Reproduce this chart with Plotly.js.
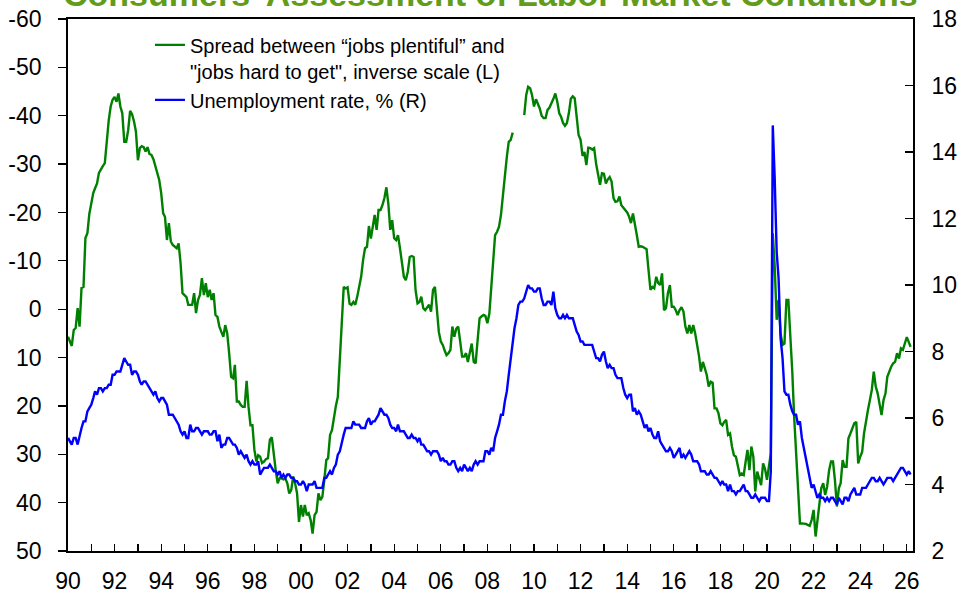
<!DOCTYPE html>
<html>
<head>
<meta charset="utf-8">
<script src="https://cdn.plot.ly/plotly-3.0.1.min.js"></script>
<style>
html,body{margin:0;padding:0;background:#ffffff;}
#chart{width:963px;height:601px;}
</style>
</head>
<body>
<div id="chart"></div>
<script>
// ---- Data (monthly, starting January 1990) ----
const startYear = 1990;
const startMonth = 1;

// Conference Board: "jobs plentiful" minus "jobs hard to get" (plotted on inverse left scale)
const spreadJobs = [
  5.7, 6.8, 7.6, 4.3, 3.9, -0.2, 3.6, -4.4, -4.6, -14.7, -15.7, -19.7,
  -22, -24, -25, -26, -28.2, -29, -29.6, -30.2, -35.7, -39, -41.9, -43.3,
  -43.9, -42.9, -44.6, -41.9, -40.5, -34.6, -34.6, -37, -41, -40.3, -38.8, -36.7,
  -30.8, -33.3, -33.7, -33.5, -32.6, -33.5, -32.1, -31.9, -31, -29.6, -28, -26.7,
  -24, -19.8, -19.1, -14.3, -17.8, -14, -13.3, -13, -12.6, -13.6, -9.5, -3.3,
  -2.8, -2.5, -0.9, -0.9, -0.9, -3.3, 0.8, -1.9, -3, -6.4, -2.9, -5.4,
  -2.5, -4, -1.9, -3.3, 1.2, 1.6, 3.6, 4.7, 5.7, 3.3, 5, 9.1,
  14, 14.3, 11.5, 19.1, 19.1, 19.8, 20.2, 20.2, 14.8, 20.2, 24, 24,
  29.1, 31.5, 30.2, 30.5, 31.8, 31.5, 31, 30.8, 27, 26.5, 30.5, 33.3,
  36, 34.9, 35, 35.2, 35, 36, 38.1, 37.4, 34.6, 36, 38.1, 44,
  40.5, 42.9, 40.5, 42.6, 42.2, 43.6, 46.4, 42.6, 41.9, 38.1, 39.5, 38.8,
  35.3, 31.2, 30.8, 26, 25, 22.2, 20, 18.1, 9.8, 1.6, -4.6, -4.3,
  -4.5, -1.1, -0.9, -1.5, -0.9, -2.6, -5, -6.7, -10.2, -12.6, -12.9, -17.2,
  -14.6, -17.4, -19.5, -16.4, -20.5, -20.5, -21.5, -23, -25.2, -21.9, -16.4, -18.4,
  -14.7, -14.3, -15.3, -12.6, -9.8, -6.7, -6, -7.7, -10.8, -11, -10.8, -4,
  -1.2, -1.5, -2.6, -0.2, 0.2, -0.5, -0.9, 0.5, -4, -4.6, 0.9, 4.7,
  6.7, 7.4, 8.5, 9.5, 9.1, 8.4, 3.6, 5.7, 4, 3.6, 6.7, 9.8,
  9.8, 9.1, 10.9, 8.8, 7.1, 10.9, 11.2, 6.4, 1.9, 1.5, 1.2, 1.4,
  2.9, 0.9, -4, -10.2, -15.3, -16, -17, -19.5, -24, -28.1, -31.5, -34.6,
  -35, -36.5, null, null, null, null, null, -40.1, -44.3, -46, -45.7, -44.3,
  -41.9, -43.4, -42.5, -41.5, -40, -39.5, -39.5, -41.2, -41.7, -42.5, -43.5, -44.6,
  -42.9, -40.5, -39.8, -38.5, -37.9, -38.5, -40.5, -43.5, -44, -43.6, -40.1, -36,
  -35, -31.7, -32.5, -29.8, -33.4, -33.3, -33, -33.3, -30, -28.1, -25.7, -28.1,
  -28, -26, -26.8, -27.3, -26.4, -22.9, -22.2, -22.3, -23.3, -21.5, -21, -20.5,
  -20, -19.1, -17.8, -19.8, -17.8, -15.3, -12.9, -13, -12.9, -12.6, -12.4, -8.1,
  -4, -4.6, -4.3, -6.7, -5.4, -5, -7.4, 0.2, -0.2, -3.3, -5, -0.5,
  -0.5, 0.2, 1.2, 0.2, -0.4, 0.5, 3.6, 5, 3.3, 5, 3.3, 5,
  7.1, 9.8, 12.9, 10.9, 12.2, 13.6, 16, 15, 15.2, 20.5, 20.5, 21.5,
  23.6, 24, 23.3, 22.9, 26, 25.7, 28.4, 30.2, 30.5, 32.6, 34.3, 34,
  34.3, 31.5, 29.1, 33.3, 28.4, 30.5, 37.7, 33.6, 35.3, 36.4, 31.9, 33,
  35.3, 32.6, 29.8, -15.7, -8.8, 2.2, -1.9, 5, 7.4, 7.1, -1.9, -1.9,
  5, 13, 22, 30, 38, 44.3, 44.3, 44.3, 44.4, 44.6, 44.8, 43.6,
  41.5, 47, 43.6, 39.5, 37, 36, 38.4, 36.7, 33.3, 31.5, 31.5, 35.3,
  40.8, 37, 36, 31.2, 32.6, 32.6, 26.7, 25.7, 24.4, 23.6, 23.3, 31.9,
  30.5, 29.5, 25.7, 22.9, 20.9, 18.8, 16.7, 12.9, 16, 17.4, 19.5, 21.9,
  18.8, 17.4, 14, 12.9, 11.9, 11.2, 10.9, 9.1, 10.2, 8.1, 8.4, 7.1,
  5.8, 6.8, 7.8
];

// Unemployment rate, % (right scale)
const unemploymentRate = [
  5.4, 5.3, 5.2, 5.4, 5.4, 5.2, 5.5, 5.7, 5.9, 5.9, 6.2, 6.3,
  6.4, 6.6, 6.8, 6.7, 6.9, 6.9, 6.8, 6.9, 6.9, 7.0, 7.0, 7.3,
  7.3, 7.4, 7.4, 7.4, 7.6, 7.8, 7.7, 7.6, 7.6, 7.3, 7.4, 7.4,
  7.3, 7.1, 7.0, 7.1, 7.1, 7.0, 6.9, 6.8, 6.7, 6.8, 6.6, 6.5,
  6.6, 6.6, 6.5, 6.4, 6.1, 6.1, 6.1, 6.0, 5.9, 5.8, 5.6, 5.5,
  5.6, 5.4, 5.4, 5.8, 5.6, 5.6, 5.7, 5.7, 5.6, 5.5, 5.6, 5.6,
  5.6, 5.5, 5.5, 5.6, 5.6, 5.3, 5.5, 5.1, 5.2, 5.2, 5.4, 5.4,
  5.3, 5.2, 5.2, 5.1, 4.9, 5.0, 4.9, 4.8, 4.9, 4.7, 4.6, 4.7,
  4.6, 4.6, 4.7, 4.3, 4.4, 4.5, 4.5, 4.5, 4.6, 4.5, 4.4, 4.4,
  4.3, 4.4, 4.2, 4.3, 4.2, 4.3, 4.3, 4.2, 4.2, 4.1, 4.1, 4.0,
  4.0, 4.1, 4.0, 3.8, 4.0, 4.0, 4.0, 4.1, 3.9, 3.9, 3.9, 3.9,
  4.2, 4.2, 4.3, 4.4, 4.3, 4.5, 4.6, 4.9, 5.0, 5.3, 5.5, 5.7,
  5.7, 5.7, 5.7, 5.9, 5.8, 5.8, 5.8, 5.7, 5.7, 5.7, 5.9, 6.0,
  5.8, 5.9, 5.9, 6.0, 6.1, 6.3, 6.2, 6.1, 6.1, 6.0, 5.8, 5.7,
  5.7, 5.6, 5.8, 5.6, 5.6, 5.6, 5.5, 5.4, 5.4, 5.5, 5.4, 5.4,
  5.3, 5.4, 5.2, 5.2, 5.1, 5.0, 5.0, 4.9, 5.0, 5.0, 5.0, 4.9,
  4.7, 4.8, 4.7, 4.7, 4.6, 4.6, 4.7, 4.7, 4.5, 4.4, 4.5, 4.4,
  4.6, 4.5, 4.4, 4.5, 4.4, 4.6, 4.7, 4.6, 4.7, 4.7, 4.7, 5.0,
  5.0, 4.9, 5.1, 5.0, 5.4, 5.6, 5.8, 6.1, 6.1, 6.5, 6.8, 7.3,
  7.8, 8.3, 8.7, 9.0, 9.4, 9.5, 9.5, 9.6, 9.8, 10.0, 9.9, 9.9,
  9.8, 9.8, 9.9, 9.9, 9.6, 9.4, 9.4, 9.5, 9.5, 9.4, 9.8, 9.3,
  9.1, 9.0, 9.0, 9.1, 9.0, 9.1, 9.0, 9.0, 9.0, 8.8, 8.6, 8.5,
  8.3, 8.3, 8.2, 8.2, 8.2, 8.2, 8.2, 8.0, 7.8, 7.8, 7.7, 7.9,
  8.0, 7.7, 7.5, 7.6, 7.5, 7.5, 7.3, 7.2, 7.2, 7.2, 6.9, 6.7,
  6.6, 6.7, 6.7, 6.2, 6.3, 6.1, 6.2, 6.1, 5.9, 5.7, 5.8, 5.6,
  5.7, 5.5, 5.4, 5.4, 5.6, 5.3, 5.2, 5.1, 5.0, 5.0, 5.1, 5.0,
  4.8, 4.9, 5.0, 5.1, 4.8, 4.9, 4.8, 4.9, 5.0, 4.9, 4.7, 4.7,
  4.7, 4.6, 4.4, 4.4, 4.4, 4.3, 4.3, 4.4, 4.3, 4.2, 4.2, 4.1,
  4.0, 4.1, 4.0, 4.0, 3.8, 4.0, 3.8, 3.8, 3.7, 3.8, 3.8, 3.9,
  4.0, 3.8, 3.8, 3.7, 3.6, 3.6, 3.7, 3.6, 3.5, 3.6, 3.6, 3.6,
  3.5, 3.5, 4.4, 14.8, 13.2, 11.0, 10.2, 8.4, 7.8, 6.8, 6.7, 6.7,
  6.4, 6.2, 6.1, 6.1, 5.8, 5.9, 5.4, 5.1, 4.7, 4.5, 4.2, 3.9,
  4.0, 3.8, 3.6, 3.7, 3.6, 3.6, 3.5, 3.6, 3.5, 3.6, 3.6, 3.5,
  3.4, 3.6, 3.5, 3.4, 3.6, 3.6, 3.5, 3.7, 3.8, 3.9, 3.7, 3.7,
  3.7, 3.9, 3.9, 3.9, 4.0, 4.1, 4.2, 4.2, 4.1, 4.1, 4.2, 4.1,
  4.0, 4.1, 4.2, 4.2, 4.2, 4.1, 4.2, 4.3, 4.4, 4.5, 4.5, 4.4,
  4.3, 4.4, 4.3
];

// Axis tick labels
const xTickYears = [1990, 1992, 1994, 1996, 1998, 2000, 2002, 2004, 2006, 2008,
                    2010, 2012, 2014, 2016, 2018, 2020, 2022, 2024, 2026];
const xTickLabels = ['90','92','94','96','98','00','02','04','06','08',
                     '10','12','14','16','18','20','22','24','26'];
const leftTickVals = [-60, -50, -40, -30, -20, -10, 0, 10, 20, 30, 40, 50];
const leftTickLabels = ['-60', '-50', '-40', '-30', '-20', '-10', '0', '10', '20', '30', '40', '50'];
const rightTickVals = [2, 4, 6, 8, 10, 12, 14, 16, 18];
const rightTickLabels = ['2', '4', '6', '8', '10', '12', '14', '16', '18'];

const legendSpread = 'Spread between \u201cjobs plentiful\u201d and<br>"jobs hard to get", inverse scale (L)';
const legendUnemp = 'Unemployment rate, % (R)';
const chartTitle = 'Consumers\u2019 Assessment of Labor Market Conditions';

// ---- Build ----
function monthDate(i) {
  const m0 = (startMonth - 1) + i;
  const y = startYear + Math.floor(m0 / 12);
  const m = (m0 % 12) + 1;
  return y + '-' + (m < 10 ? '0' + m : m) + '-01';
}
const xSpread = spreadJobs.map((_, i) => monthDate(i));
const xUnemp = unemploymentRate.map((_, i) => monthDate(i));

const FONT = 'Liberation Sans, Arial, Helvetica, sans-serif';

const traces = [
  {
    x: xSpread, y: spreadJobs, type: 'scatter', mode: 'lines',
    name: legendSpread, yaxis: 'y',
    line: {color: '#008000', width: 2.4},
    connectgaps: false
  },
  {
    x: xUnemp, y: unemploymentRate, type: 'scatter', mode: 'lines',
    name: legendUnemp, yaxis: 'y2',
    line: {color: '#0000FF', width: 2.4}
  }
];

const layout = {
  width: 963, height: 601,
  margin: {l: 68, r: 50, t: 19, b: 50, pad: 0},
  paper_bgcolor: '#ffffff', plot_bgcolor: '#ffffff',
  font: {family: FONT, size: 23, color: '#000'},
  showlegend: true,
  legend: {
    x: 0.097, xanchor: 'left', y: 0.988, yanchor: 'top',
    font: {family: FONT, size: 20, color: '#000'},
    bgcolor: 'rgba(0,0,0,0)', borderwidth: 0,
    valign: 'top', tracegroupgap: 0, traceorder: 'normal'
  },
  xaxis: {
    type: 'date',
    range: ['1990-01-01', '2026-04-08'],
    tickmode: 'array',
    tickvals: xTickYears.map(y => y + '-01-01'),
    ticktext: xTickLabels,
    ticks: 'inside', ticklen: 7, tickwidth: 1.3, tickcolor: '#000',
    minor: {tickmode: 'linear', tick0: '1990-01-01', dtick: 'M12', ticks: 'inside',
            ticklen: 7, tickwidth: 1.3, tickcolor: '#000', showgrid: false},
    showline: true, linecolor: '#000', linewidth: 1.8, mirror: true,
    showgrid: false, zeroline: false,
    tickfont: {family: FONT, size: 23, color: '#000'},
    ticklabelstandoff: 9
  },
  yaxis: {
    range: [50, -60],
    tickmode: 'array', tickvals: leftTickVals, ticktext: leftTickLabels,
    ticks: 'outside', ticklen: 8, tickwidth: 1.3, tickcolor: '#000',
    showline: true, linecolor: '#000', linewidth: 1.8,
    showgrid: false, zeroline: false,
    tickfont: {family: FONT, size: 23, color: '#000'},
    ticklabelstandoff: 12
  },
  yaxis2: {
    overlaying: 'y', side: 'right',
    range: [2, 18],
    tickmode: 'array', tickvals: rightTickVals, ticktext: rightTickLabels,
    ticks: 'inside', ticklen: 8, tickwidth: 1.3, tickcolor: '#000',
    showline: true, linecolor: '#000', linewidth: 1.8,
    showgrid: false, zeroline: false,
    tickfont: {family: FONT, size: 23, color: '#000'},
    ticklabelstandoff: 12
  },
  annotations: [{
    text: '<b>' + chartTitle + '</b>',
    xref: 'paper', yref: 'paper', x: 0.5, y: 1.047,
    xanchor: 'center', yanchor: 'middle', showarrow: false,
    font: {family: FONT, size: 34, color: '#629C19'}
  }]
};

Plotly.newPlot('chart', traces, layout, {staticPlot: true, displayModeBar: false});
</script>
</body>
</html>
